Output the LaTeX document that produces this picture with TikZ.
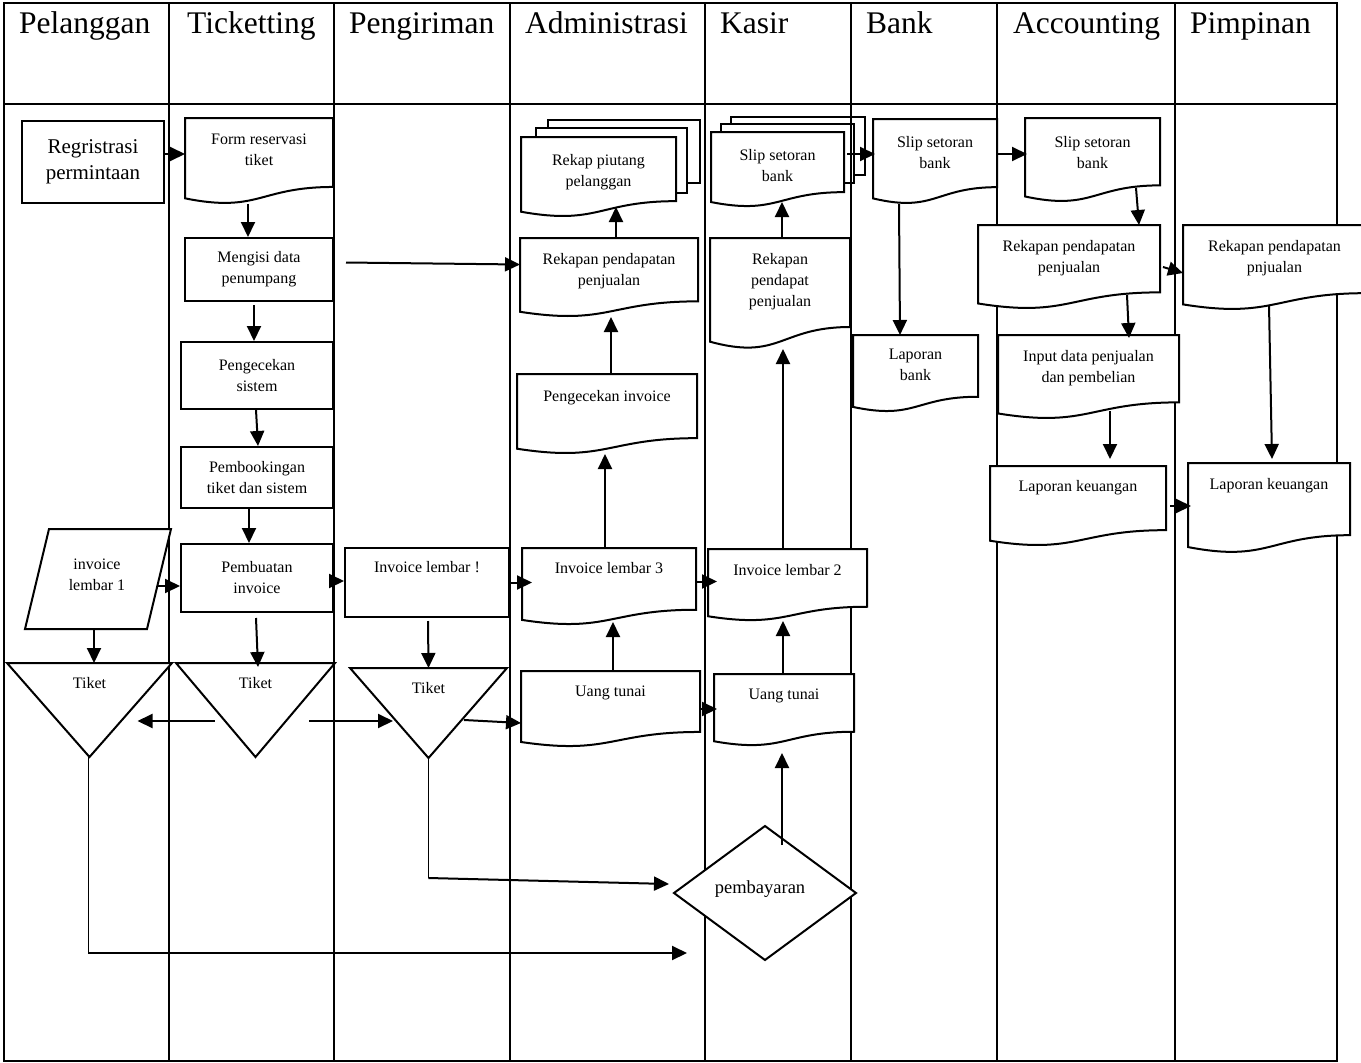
\documentclass[tikz,border=0pt]{standalone}
\usepackage{fontspec}
\setmainfont{Liberation Serif}
\usepackage{tikz}
\usetikzlibrary{arrows.meta,calc}

\tikzset{
  lane/.style={line width=2pt},
  shapeline/.style={draw, line width=2pt, fill=white},
  pageline/.style={line width=2pt},
  box/.style={draw, line width=2pt, fill=white, inner sep=0pt, align=center, font=\fontsize{16}{21}\selectfont},
  docframe/.style={inner sep=0pt, outer sep=0pt},
  txt/.style={inner sep=0pt, align=center, anchor=north, font=\fontsize{16}{21}\selectfont},
  head/.style={inner sep=0pt, anchor=base west, font=\fontsize{31.5}{37}\selectfont},
  arr/.style={line width=2pt, -{Triangle[length=15pt,width=14pt]}},
  thinline/.style={line width=1pt}
}

\begin{document}
\begin{tikzpicture}[x=1pt, y=-1pt]
            \useasboundingbox (0,0) rectangle (1361,1063);

            % Lanes
            \draw [lane] (4,3) rectangle (1337,1061);
            \draw [lane] (4,104) -- (1337,104);
            \foreach \lx in {169,334,510,705,851,997,1175}
                \draw [lane] (\lx,3) -- (\lx,1061);

            % Lane names
            \node (hPel) [head] at (19,33) {Pelanggan};
            \node (hTic) [head] at (187,33) {Ticketting};
            \node (hPen) [head] at (349,33) {Pengiriman};
            \node (hAdm) [head] at (525,33) {Administrasi};
            \node (hKas) [head] at (720,33) {Kasir};
            \node (hBan) [head] at (866,33) {Bank};
            \node (hAcc) [head] at (1013,33) {Accounting};
            \node (hPim) [head] at (1190,33) {Pimpinan};

            % Process boxes
            \node (reg) [box, minimum width=142, minimum height=82, font=\fontsize{21}{26}\selectfont] at (93,162) {Regristrasi\\permintaan};
            \node (mengisi) [box, minimum width=148, minimum height=63] at (259,269.5) {Mengisi data\\penumpang};
            \node (ceksis) [box, minimum width=152, minimum height=67] at (257,375.5) {Pengecekan\\sistem};
            \node (booking) [box, minimum width=152, minimum height=61] at (257,477.5) {Pembookingan\\tiket dan sistem};
            \node (buat) [box, minimum width=152, minimum height=68] at (257,578) {Pembuatan\\invoice};
            \node (invL) [box, minimum width=164, minimum height=69] at (427,582.5) {};
            \node (invL-t) [txt] at ([yshift=-14]invL.north) {Invoice lembar !};

            % Input (parallelogram)
            \node (inv1) [docframe, minimum width=122, minimum height=100] at (98,579) {};
            \draw [shapeline] ([xshift=-12]inv1.south west) -- ([xshift=-12]inv1.south east)
                -- ([xshift=12]inv1.north east) -- ([xshift=12]inv1.north west) -- cycle;
            \node (inv1-t) [txt, anchor=center] at ([xshift=-1,yshift=4]inv1.center) {invoice\\lembar 1};

            % Documents
            \foreach \n/\x/\y/\w/\h/\d/\t in {
                form/185/118/148/86/16/{Form reservasi\\tiket},
                piutang/521/137/155/80/17/{Rekap piutang\\pelanggan},
                slipK/711/132/133/75/17/{Slip setoran\\bank},
                slipB/873/119/124/85/17/{Slip setoran\\bank},
                slipA/1025/118/135/84/18/{Slip setoran\\bank},
                rekapAd/520/238/178/79/15/{Rekapan pendapatan\\penjualan},
                cekinv/517/374/180/80/16/{Pengecekan invoice},
                inv3/522/548/174/77/14/{Invoice lembar 3},
                uangAd/521/671/179/76/15/{Uang tunai},
                rekapK/710/238/140/111/15/{Rekapan\\pendapat\\penjualan},
                inv2/708/549/159/72/15/{Invoice lembar 2},
                uangK/714/674/140/72/15/{Uang tunai},
                lapbank/853/335/125/77/14/{Laporan\\bank},
                rekapAc/978/225/182/84/15/{Rekapan pendapatan\\penjualan},
                rekapP/1183/225/183/85/15/{Rekapan pendapatan\\pnjualan},
                input/998/335/181/84/15/{Input data penjualan\\dan pembelian},
                lapkeuAc/990/466/176/80/14/{Laporan keuangan},
                lapkeuP/1188/463/162/90/15/{Laporan keuangan}}
            {
                \node (\n) [docframe, minimum width=\w, minimum height=\h] at (\x+\w/2,\y+\h/2) {};
                \draw [shapeline] (\n.north west) -- (\n.north east)
                    -- ($(\n.north east)!0.802!(\n.south east)$)
                    .. controls ($(\n.north)!0.802!(\n.south)$) and ($(\n.north)!1.1075!(\n.south)$)
                    .. ($(\n.north west)!0.934!(\n.south west)$) -- cycle;
                \node (\n-t) [txt] at ([yshift=-\d]\n.north) {\t};
            }
            % Back pages
            \draw [pageline] ([xshift=15]piutang.north west) -- ++(0,-9) -- ++(151,0) -- ++(0,65) -- ++(-11,0);
            \draw [pageline] ([xshift=27]piutang.north west) ++(0,-9) -- ++(0,-8) -- ++(152,0) -- ++(0,63) -- ++(-13,0);
            \draw [pageline] ([xshift=10]slipK.north west) -- ++(0,-8) -- ++(133,0) -- ++(0,59) -- ++(-10,0);
            \draw [pageline] ([xshift=20]slipK.north west) ++(0,-8) -- ++(0,-7) -- ++(134,0) -- ++(0,58) -- ++(-11,0);

            % Tickets
            \foreach \n/\cx/\cy/\w/\h in {tk1/89.5/710/165/94, tk2/255.5/710/159/94, tk3/428.5/713/157/90}
            {
                \node (\n) [docframe, minimum width=\w, minimum height=\h] at (\cx,\cy) {};
                \draw [shapeline] (\n.north west) -- (\n.north east) -- (\n.south) -- cycle;
                \node (\n-t) [txt] at ([yshift=-14]\n.north) {Tiket};
            }

            % Decision
            \node (pay) [docframe, minimum width=182, minimum height=134] at (765,893) {};
            \draw [shapeline] (pay.west) -- (pay.north) -- (pay.east) -- (pay.south) -- cycle;
            \node (pay-t) [txt, anchor=center, font=\fontsize{18.5}{22}\selectfont] at ([xshift=-5,yshift=4]pay.center) {pembayaran};

            % Ticketting flow
            \draw [arr] ([yshift=8]reg.east) -- ([yshift=8]reg.east -| form.west);
            \draw [arr] ([xshift=-11]form.south) -- ([xshift=-11]mengisi.north);
            \draw [arr] ([xshift=-5,yshift=-3]mengisi.south) -- ([xshift=-3]ceksis.north);
            \draw [arr] ([xshift=-1]ceksis.south) -- ([xshift=1]booking.north);
            \draw [arr] ([xshift=-8]booking.south) -- ([xshift=-8]buat.north);
            \draw [arr] ([xshift=12,yshift=7]mengisi.east) -- ([yshift=13]rekapAd.west);
            \draw [arr] ([xshift=-2,yshift=-7]inv1.east) -- ([yshift=-8]buat.west);
            \draw [arr] ([yshift=-3]buat.east) -- ([yshift=-3]buat.east -| invL.west);
            \draw [arr] (invL.east) -- ([xshift=10]invL.east -| inv3.west);
            % Administrasi
            \draw [arr] ([yshift=5]inv3.east) -- ([xshift=9,yshift=5]inv3.east -| inv2.west);
            \draw [arr] ([xshift=-4]inv3.north) -- ([xshift=-2]cekinv.south);
            \draw [arr] ([xshift=4]cekinv.north) -- ([xshift=2]rekapAd.south);
            \draw [arr] ([xshift=7]rekapAd.north) -- ([xshift=17.5,yshift=10]piutang.south);
            \draw [arr] ([xshift=2.5]uangAd.north) -- ([xshift=4,yshift=3]inv3.south);
            % Tickets
            \draw [arr] ([xshift=-4]inv1.south) -- ([xshift=4.5]tk1.north);
            \draw [arr] ([xshift=-1,yshift=-5]buat.south) -- ([xshift=2.5,yshift=-4]tk2.north);
            \draw [arr] ([xshift=1,yshift=-3]invL.south) -- (tk3.north);
            \draw [arr] ([xshift=-41,yshift=-11]tk2.center) -- ([xshift=48,yshift=-11]tk1.center);
            \draw [arr] ([xshift=53.5,yshift=-11]tk2.center) -- ([xshift=-35.5,yshift=-8]tk3.center);
            \draw [arr] ([xshift=35.5,yshift=-7]tk3.center) -- ([yshift=-14]uangAd.west);
            \draw [arr] (uangAd.east) -- ([xshift=3]uangAd.east -| uangK.west);
            % Kasir
            \draw [arr] ([xshift=-1]uangK.north) -- ([xshift=-4.5]inv2.south);
            \draw [arr] ([xshift=-4.5]inv2.north) -- ([xshift=3]rekapK.south);
            \draw [arr] ([xshift=2]rekapK.north) -- ([xshift=4.5,yshift=5]slipK.south);
            \draw [arr] ([xshift=3,yshift=15.5]slipK.east) -- ([xshift=2,yshift=15.5]slipK.east -| slipB.west);
            % Bank
            \draw [arr] ([yshift=7.5]slipB.east) -- ([xshift=2,yshift=7.5]slipB.east -| slipA.west);
            \draw [arr] ([xshift=-36]slipB.south) -- ([xshift=-15.5]lapbank.north);
            % Accounting
            \draw [arr] ([xshift=43.5,yshift=14]slipA.south) -- ([xshift=70]rekapAc.north);
            \draw [arr] ([xshift=3]rekapAc.east) -- ([yshift=-5.5]rekapP.west);
            \draw [arr] ([xshift=58,yshift=14]rekapAc.south) -- ([xshift=40.5,yshift=-3]input.north);
            \draw [arr] ([xshift=21.5,yshift=8]input.south) -- ([xshift=32,yshift=7]lapkeuAc.north);
            \draw [arr] ([xshift=4]lapkeuAc.east) -- ([xshift=3]lapkeuAc.east -| lapkeuP.west);
            % Pimpinan
            \draw [arr] ([xshift=-5.5,yshift=5]rekapP.south) -- ([xshift=3,yshift=4]lapkeuP.north);
            % Pembayaran
            \draw [arr] ([xshift=17,yshift=48]pay.center) -- ([xshift=-2,yshift=-7]uangK.south);
            \coordinate (bend3) at (tk3.south |- 0,878);
            \draw [thinline] (tk3.south) -- (bend3);
            \draw [arr] (bend3) -- ([xshift=-5,yshift=9]pay.west);
            \coordinate (bend1) at ([xshift=-1.5]tk1.south |- 0,953);
            \draw [thinline] ([xshift=-1.5]tk1.south) -- (bend1);
            \draw [arr] (bend1) -- ([xshift=13]bend1 -| pay.west);
\end{tikzpicture}
\end{document}
